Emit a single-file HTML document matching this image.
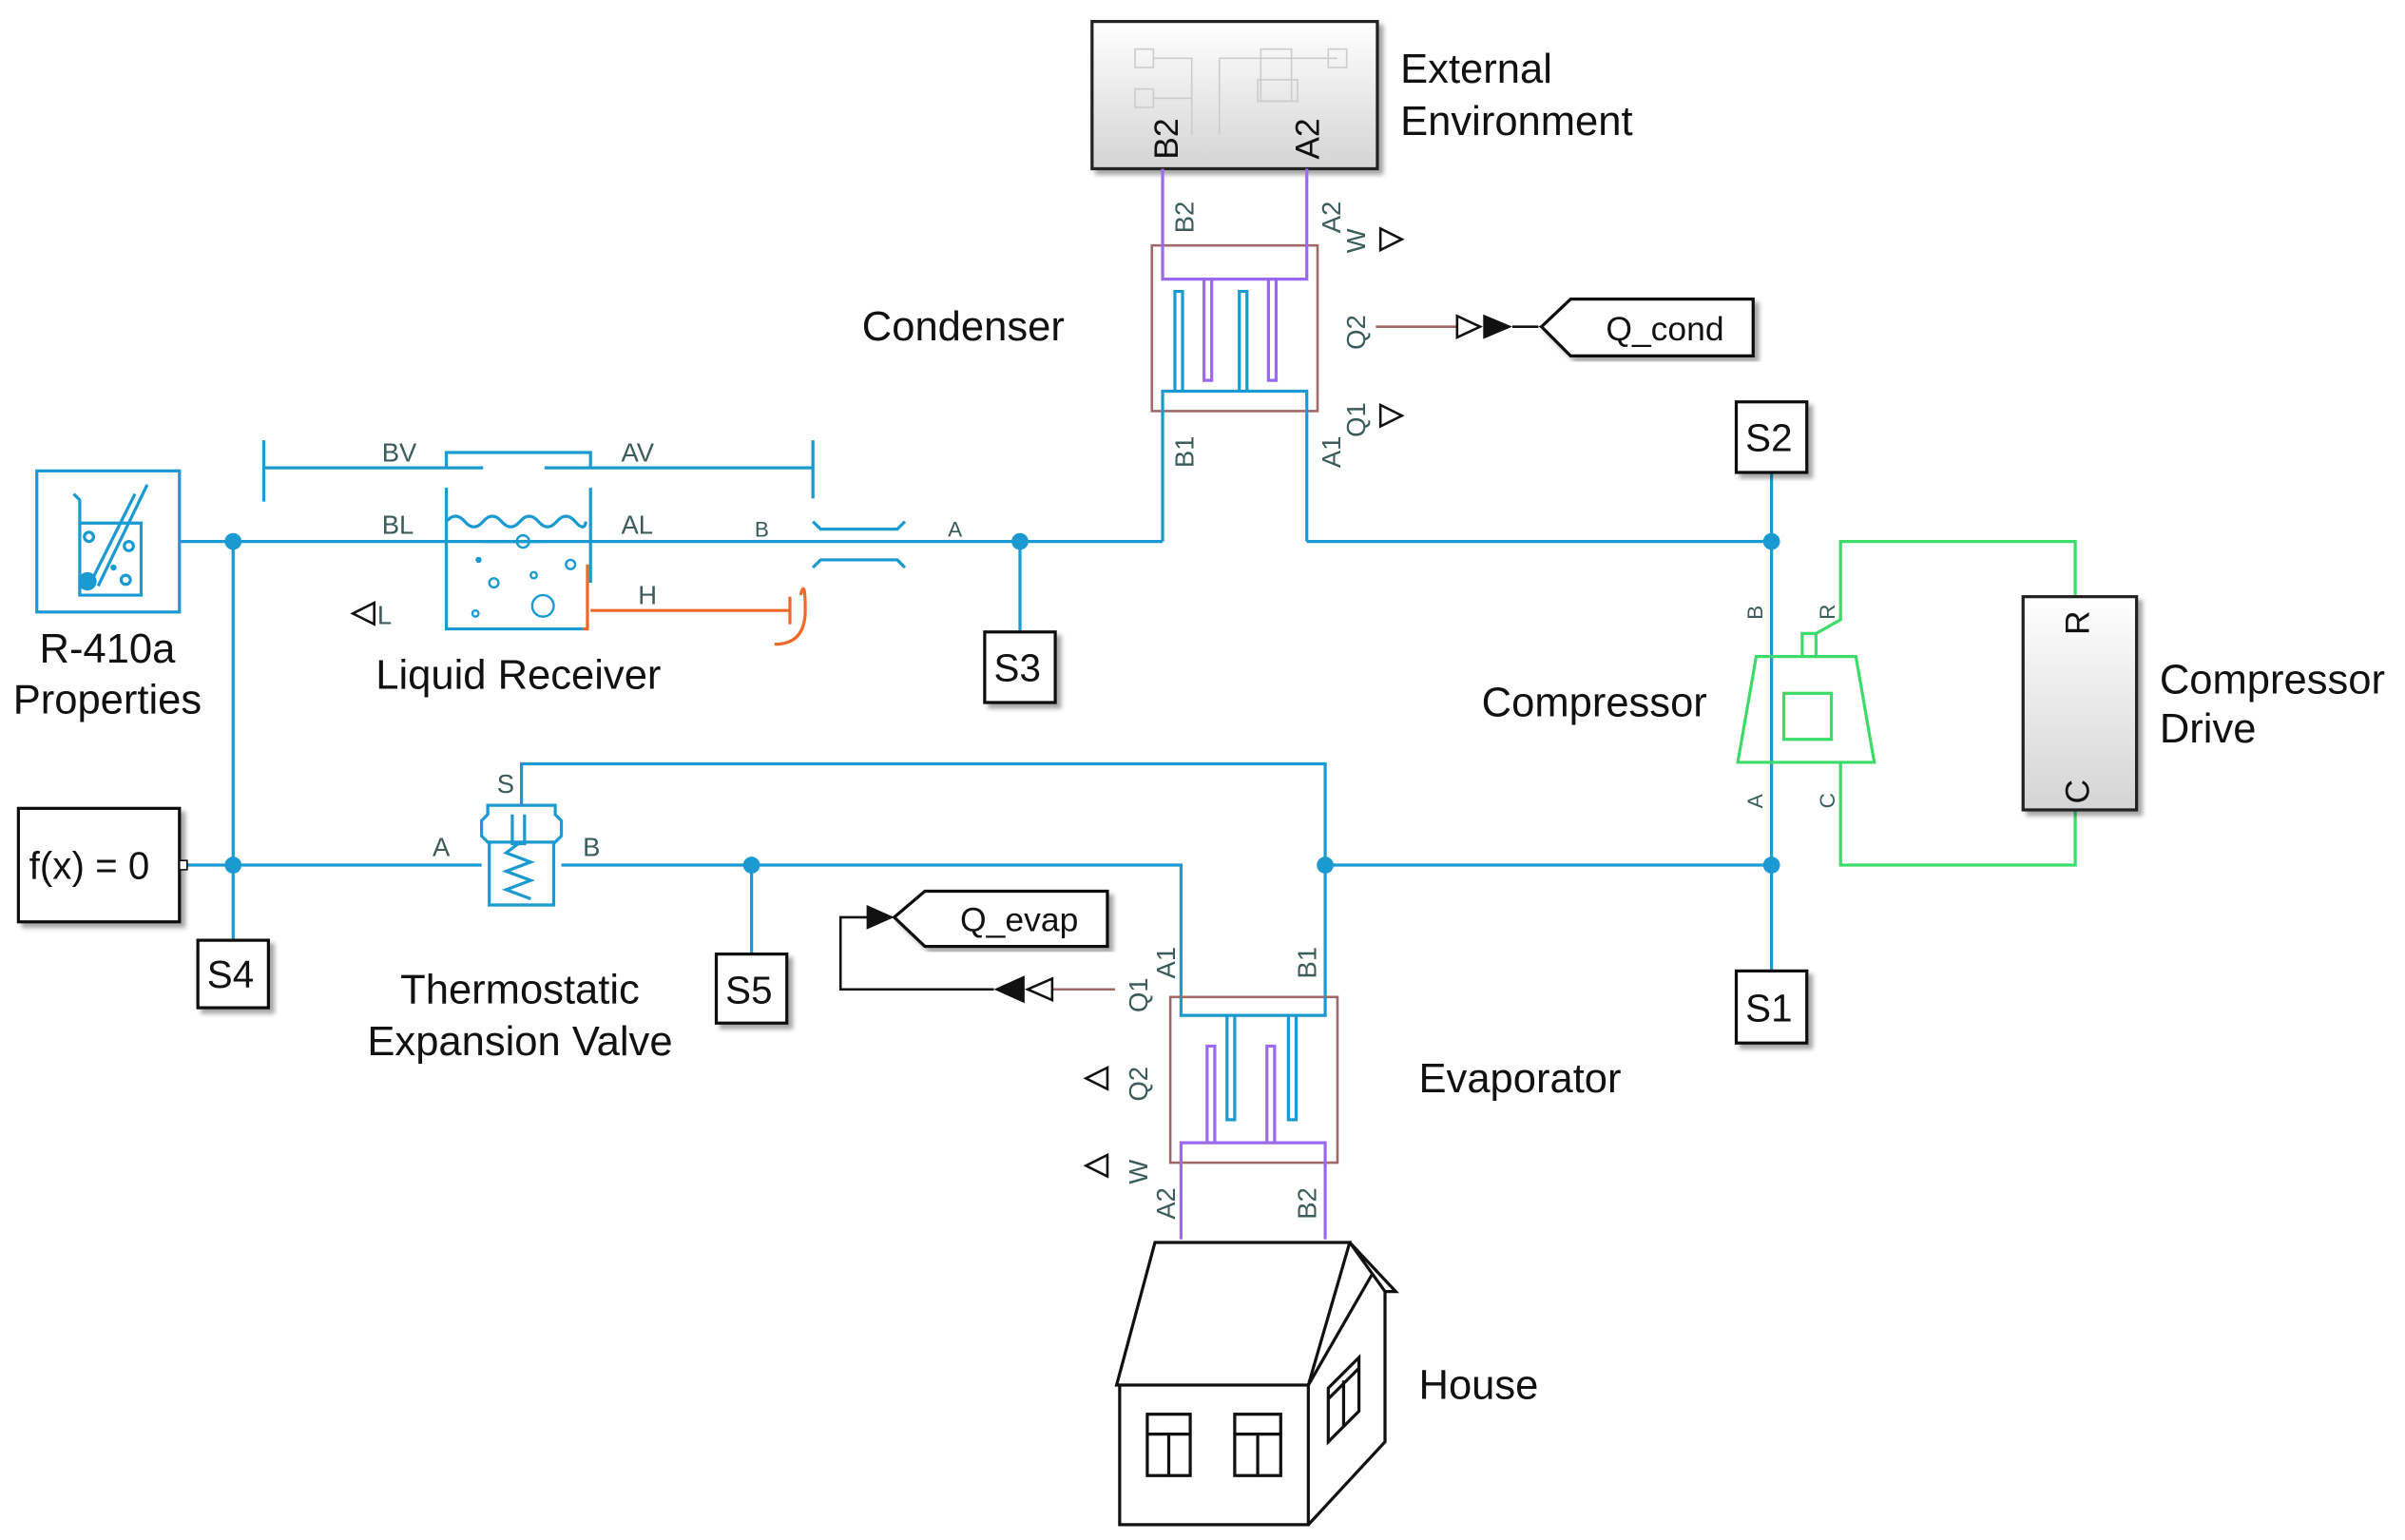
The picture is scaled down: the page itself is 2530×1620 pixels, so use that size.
<!DOCTYPE html>
<html><head><meta charset="utf-8"><style>
html,body{margin:0;padding:0;background:#fff;}
svg{display:block;}
text{font-family:"Liberation Sans",sans-serif;}
.lbl{font-size:27px;fill:#111;}
.p{font-size:17px;fill:#3c5c5c;}
.ps{font-size:14px;fill:#3c5c5c;}
.b{stroke:#1a9ad0;stroke-width:2;fill:none;}
.g{stroke:#3ddc6a;stroke-width:2;fill:none;}
.pu{stroke:#9b6af0;stroke-width:2;fill:none;}
.br{stroke:#a06868;stroke-width:1.6;fill:none;}
.k{stroke:#111;stroke-width:2;fill:none;}
</style></head><body>
<svg width="2530" height="1620" viewBox="0 0 1568 1004" preserveAspectRatio="none" xmlns="http://www.w3.org/2000/svg">
<defs>
<linearGradient id="gr" x1="0" y1="0" x2="0" y2="1"><stop offset="0" stop-color="#ffffff"/><stop offset="1" stop-color="#d4d4d4"/></linearGradient>
<filter id="sh"><feDropShadow dx="3" dy="3" stdDeviation="1.5" flood-opacity="0.35"/></filter>
</defs>

<!-- External Environment -->
<rect x="712" y="14" width="186" height="96" fill="url(#gr)" stroke="#222" stroke-width="2" filter="url(#sh)"/>
<g stroke="#ccc" fill="none" stroke-width="1">
<rect x="740" y="32" width="12" height="12"/><rect x="740" y="58" width="12" height="12"/>
<path d="M752 38H777V88M752 64H777M795 38V88M795 38H872"/><rect x="822" y="32" width="20" height="34"/><rect x="866" y="32" width="12" height="12"/><rect x="820" y="52" width="26" height="14"/>
</g>
<text class="p" style="font-size:22px;fill:#111" transform="translate(768,104) rotate(-90)">B2</text>
<text class="p" style="font-size:22px;fill:#111" transform="translate(860,104) rotate(-90)">A2</text>
<text class="lbl" x="913" y="54">External</text>
<text class="lbl" x="913" y="88">Environment</text>

<!-- Condenser -->
<rect x="751" y="160" width="108" height="108" class="br"/>
<path class="pu" d="M758 110V182H852V110M785 182V248H790V182M827 182V248H832V182"/>
<path class="b" d="M758 353V255H852V353M766 255V190H771V255M808 255V190H813V255"/>
<text class="p" transform="translate(778,152) rotate(-90)">B2</text>
<text class="p" transform="translate(874,152) rotate(-90)">A2</text>
<text class="p" transform="translate(890,165) rotate(-90)">W</text>
<text class="p" transform="translate(890,228) rotate(-90)">Q2</text>
<text class="p" transform="translate(890,285) rotate(-90)">Q1</text>
<text class="p" transform="translate(778,305) rotate(-90)">B1</text>
<text class="p" transform="translate(874,305) rotate(-90)">A1</text>
<path d="M900 149L914 156L900 163Z M900 264L914 271L900 278Z" fill="none" stroke="#111" stroke-width="1.6"/>
<text class="lbl" x="562" y="222">Condenser</text>
<path d="M897 213H950" stroke="#a06868" stroke-width="1.6"/>
<path d="M950 206L965 213L950 220Z" fill="none" stroke="#111" stroke-width="1.6"/>
<path d="M967 205L986 213L967 221Z" fill="#111"/>
<path d="M986 213H1003" stroke="#111" stroke-width="1.6"/>
<path d="M1003 213L1020 204V222Z" fill="#111"/>
<path d="M1005 213L1024 195H1143V232H1024Z" fill="#fff" stroke="#111" stroke-width="2" filter="url(#sh)"/>
<text x="1047" y="222" style="font-size:22px;fill:#111">Q_cond</text>

<!-- main lines -->
<path class="b" d="M118 353H758M852 353H1155M1155 308V633M665 353V412M152 353V613M118 564H314M366 564H770V650M864 564H1155M864 650V498H340V525"/>
<g fill="#1a9ad0"><circle cx="152" cy="353" r="5.5"/><circle cx="665" cy="353" r="5.5"/><circle cx="1155" cy="353" r="5.5"/><circle cx="152" cy="564" r="5.5"/><circle cx="490" cy="564" r="5.5"/><circle cx="864" cy="564" r="5.5"/><circle cx="1155" cy="564" r="5.5"/></g>
<path class="b" d="M490 564V622"/>

<!-- S boxes -->
<g fill="#fff" stroke="#111" stroke-width="2" filter="url(#sh)">
<rect x="1132" y="262" width="46" height="46"/><rect x="1132" y="633" width="46" height="47"/>
<rect x="642" y="412" width="46" height="46"/><rect x="129" y="613" width="46" height="44"/><rect x="467" y="622" width="46" height="45"/>
<rect x="12" y="527" width="105" height="74"/>
</g>
<g style="font-size:25px;fill:#111">
<text x="1138" y="294">S2</text><text x="1138" y="666">S1</text><text x="648" y="444">S3</text><text x="135" y="644">S4</text><text x="473" y="654">S5</text>
<text x="19" y="573">f(x) = 0</text></g>
<rect x="117" y="561" width="5" height="6" fill="#fff" stroke="#111"/>

<!-- R-410a -->
<rect x="24" y="307" width="93" height="92" class="b"/>
<path class="b" d="M48 322L52 326V388H92V341H52M88 322L60 378M96 316L64 382" />
<circle cx="57" cy="379" r="6" fill="#1a9ad0"/>
<circle cx="58" cy="350" r="3" class="b"/><circle cx="84" cy="356" r="3" class="b"/><circle cx="82" cy="378" r="3" class="b"/><circle cx="74" cy="370" r="2" fill="#1a9ad0"/>
<text class="lbl" x="70" y="432" text-anchor="middle">R-410a</text>
<text class="lbl" x="70" y="465" text-anchor="middle">Properties</text>

<!-- Liquid Receiver -->
<path class="b" d="M172 287V327M172 305H315M355 305H530M530 287V325M291 305V295H385V305M291 318V410H380M385 318V380M291 340q6-7 12 0t12 0t12 0t12 0t12 0t12 0t12 0t7 0"/>
<path class="b" d="M315 353H355" stroke="#fff" stroke-width="4"/>
<g fill="none" stroke="#1a9ad0" stroke-width="1.5"><circle cx="341" cy="353" r="4"/><circle cx="372" cy="368" r="3"/><circle cx="322" cy="380" r="3"/><circle cx="348" cy="375" r="2"/><circle cx="354" cy="395" r="7"/><circle cx="310" cy="400" r="2"/></g>
<circle cx="312" cy="365" r="2" fill="#1a9ad0"/>
<path d="M383 368V410H380M385 398H515M515 389V407M505 420q20 0 20-22t-3-10" stroke="#ef6a2a" stroke-width="2" fill="none"/>
<path class="b" d="M530 340l5 5H585l5-5M530 370l5-5H585l5 5"/>
<text class="p" x="249" y="301">BV</text><text class="p" x="405" y="301">AV</text>
<text class="p" x="249" y="348">BL</text><text class="p" x="405" y="348">AL</text>
<text class="ps" x="492" y="350">B</text><text class="ps" x="618" y="350">A</text>
<text class="p" x="416" y="394">H</text>
<path d="M230 400L244 393V407Z" fill="none" stroke="#111" stroke-width="1.6"/><text class="p" x="246" y="407">L</text>
<text class="lbl" x="338" y="449" text-anchor="middle">Liquid Receiver</text>

<!-- Compressor -->
<path class="g" d="M1145 428H1210L1222 497H1133Z"/>
<rect x="1163" y="452" width="31" height="30" class="g"/>
<path class="g" d="M1175 428V413H1184V428M1184 413L1200 404V353H1353V390M1353 528V564H1200V497"/>
<rect x="1319" y="389" width="74" height="139" fill="url(#gr)" stroke="#222" stroke-width="2" filter="url(#sh)"/>
<text transform="translate(1362,414) rotate(-90)" style="font-size:22px;fill:#111">R</text>
<text transform="translate(1362,524) rotate(-90)" style="font-size:22px;fill:#111">C</text>
<text class="ps" transform="translate(1149,404) rotate(-90)">B</text>
<text class="ps" transform="translate(1196,404) rotate(-90)">R</text>
<text class="ps" transform="translate(1149,527) rotate(-90)">A</text>
<text class="ps" transform="translate(1196,527) rotate(-90)">C</text>
<text class="lbl" x="966" y="467">Compressor</text>
<text class="lbl" x="1408" y="452">Compressor</text>
<text class="lbl" x="1408" y="484">Drive</text>

<!-- TXV -->
<path class="b" d="M318 525H362V531L366 535V545L362 549H318L314 545V535L318 531ZM319 549V590H361V549M334 531V550H342V531M338 550L330 556L346 562L330 568L346 574L330 580L346 586"/>
<text class="p" x="324" y="517">S</text><text class="p" x="282" y="558">A</text><text class="p" x="380" y="558">B</text>
<text class="lbl" x="339" y="654" text-anchor="middle">Thermostatic</text>
<text class="lbl" x="339" y="688" text-anchor="middle">Expansion Valve</text>

<!-- Evaporator -->
<rect x="763" y="650" width="109" height="108" class="br"/>
<path class="b" d="M770 650V662H864V650M800 662V730H805V662M840 662V730H845V662"/>
<path class="pu" d="M770 808V745H864V808M787 745V682H792V745M826 745V682H831V745"/>
<text class="p" transform="translate(766,638) rotate(-90)">A1</text>
<text class="p" transform="translate(858,638) rotate(-90)">B1</text>
<text class="p" transform="translate(748,660) rotate(-90)">Q1</text>
<text class="p" transform="translate(748,718) rotate(-90)">Q2</text>
<text class="p" transform="translate(748,772) rotate(-90)">W</text>
<text class="p" transform="translate(766,795) rotate(-90)">A2</text>
<text class="p" transform="translate(858,795) rotate(-90)">B2</text>
<path d="M708 703L722 696V710Z M708 760L722 753V767Z" fill="none" stroke="#111" stroke-width="1.6"/>
<path d="M727 645H686" stroke="#a06868" stroke-width="1.6"/>
<path d="M686 638L670 645L686 652Z" fill="none" stroke="#111" stroke-width="1.6"/>
<path d="M668 636L648 645L668 654Z" fill="#111"/>
<path d="M648 645H548V598H566" stroke="#111" stroke-width="1.6" fill="none"/>
<path d="M565 590L583 598L565 606Z" fill="#111"/>
<path d="M583 598L603 581H722V617H603Z" fill="#fff" stroke="#111" stroke-width="2" filter="url(#sh)"/>
<text x="626" y="607" style="font-size:22px;fill:#111">Q_evap</text>
<text class="lbl" x="925" y="712">Evaporator</text>

<!-- House -->
<g class="k" stroke-width="2">
<path d="M753 810H880L853 903H728Z"/>
<path d="M730 903V994H853V903"/>
<path d="M853 994L903 940V842L880 810L910 842L903 842"/>
<path d="M853 903L895 830"/>
<rect x="748" y="922" width="28" height="40"/><path d="M748 935H776M762 935V962"/>
<rect x="805" y="922" width="30" height="40"/><path d="M805 935H835M820 935V962"/>
<path d="M866 905L886 885V920L866 940Z M866 912L886 892M876 900V930"/>
</g>
<text class="lbl" x="925" y="912">House</text>
</svg>
</body></html>
